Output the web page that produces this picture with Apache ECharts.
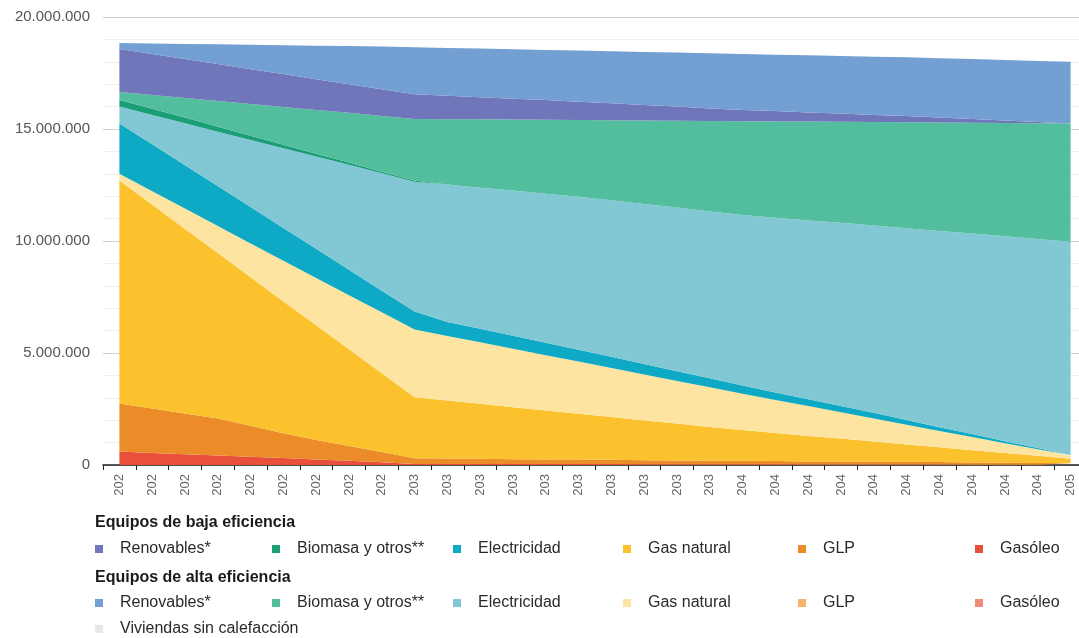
<!DOCTYPE html>
<html>
<head>
<meta charset="utf-8">
<title>Equipos de calefacción</title>
<script src="https://cdn.jsdelivr.net/npm/echarts@6/dist/echarts.min.js"></script>
<style>
  html, body { margin: 0; padding: 0; background: #fff; overflow: hidden; }
  /* el original está recortado por la derecha: el lienzo es algo más ancho que la ventana */
  #grafico { width: 1087px; height: 638px; }
</style>
</head>
<body>
<div id="grafico"></div>
<script>
// años (eje x)
var anios = ['2021','2022','2023','2024','2025','2026','2027','2028','2029','2030',
             '2031','2032','2033','2034','2035','2036','2037','2038','2039','2040',
             '2041','2042','2043','2044','2045','2046','2047','2048','2049','2050'];

// valores en millones de viviendas
var gasoleoBaja = [0.60,0.54,0.48,0.42,0.37,0.31,0.25,0.19,0.12,0.05,
                   0.05,0.05,0.04,0.04,0.04,0.04,0.03,0.03,0.03,0.03,
                   0.03,0.02,0.02,0.02,0.02,0.02,0.01,0.01,0.01,0.01];
var gasoleoAlta = [0,0,0,0,0,0,0,0,0,0, 0,0,0,0,0,0,0,0,0,0, 0,0,0,0,0,0,0,0,0,0];
var glpBaja = [2.15,1.98,1.82,1.66,1.38,1.11,0.87,0.66,0.46,0.25,
               0.24,0.23,0.22,0.21,0.20,0.19,0.18,0.17,0.16,0.16,
               0.15,0.14,0.14,0.13,0.12,0.11,0.10,0.09,0.08,0.07];
var glpAlta = [0,0,0,0,0,0,0,0,0,0, 0,0,0,0,0,0,0,0,0,0, 0,0,0,0,0,0,0,0,0,0];
var gasBaja = [9.95,9.10,8.24,7.38,6.63,5.88,5.12,4.32,3.52,2.73,
               2.59,2.45,2.32,2.18,2.05,1.91,1.78,1.65,1.51,1.37,
               1.25,1.14,1.02,0.90,0.78,0.66,0.55,0.44,0.32,0.20];
var gasAlta = [0.30,0.60,0.91,1.21,1.51,1.82,2.11,2.41,2.72,3.02,
               2.88,2.75,2.61,2.47,2.33,2.19,2.05,1.90,1.77,1.62,
               1.47,1.33,1.17,1.03,0.88,0.73,0.59,0.43,0.29,0.14];
var elecBaja = [2.25,2.10,1.93,1.78,1.63,1.46,1.30,1.14,0.96,0.80,
                0.62,0.60,0.58,0.56,0.53,0.50,0.47,0.44,0.40,0.37,
                0.34,0.31,0.28,0.25,0.21,0.17,0.13,0.09,0.06,0.03];
var elecAlta = [0.75,1.31,1.88,2.43,2.99,3.56,4.12,4.68,5.24,5.80,
                6.14,6.30,6.48,6.65,6.83,6.99,7.14,7.30,7.45,7.61,
                7.80,7.98,8.18,8.36,8.56,8.76,8.95,9.15,9.33,9.52];
var bioBaja = [0.30,0.27,0.25,0.22,0.19,0.16,0.13,0.10,0.07,0.05,
               0,0,0,0,0,0,0,0,0,0, 0,0,0,0,0,0,0,0,0,0];
var bioAlta = [0.35,0.62,0.87,1.15,1.42,1.68,1.95,2.22,2.49,2.75,
               2.92,3.05,3.17,3.30,3.42,3.57,3.73,3.88,4.04,4.19,
               4.30,4.41,4.51,4.62,4.73,4.84,4.95,5.06,5.17,5.28];
var renBaja = [1.92,1.83,1.74,1.65,1.55,1.47,1.37,1.28,1.20,1.10,
               1.04,0.99,0.93,0.88,0.82,0.76,0.69,0.63,0.56,0.50,
               0.46,0.41,0.37,0.32,0.28,0.22,0.17,0.11,0.05,0.00];
var renAlta = [0.27,0.47,0.68,0.88,1.09,1.29,1.50,1.70,1.90,2.10,
               2.14,2.17,2.21,2.24,2.28,2.32,2.37,2.41,2.46,2.50,
               2.52,2.55,2.57,2.60,2.62,2.65,2.67,2.70,2.73,2.75];
var sinCalefaccion = [0,0,0,0,0,0,0,0,0,0, 0,0,0,0,0,0,0,0,0,0, 0,0,0,0,0,0,0,0,0,0];

// etiquetas de la leyenda
var nombres = ['Renovables*', 'Biomasa y otros**', 'Electricidad', 'Gas natural', 'GLP', 'Gasóleo'];

var fuente = '"Liberation Sans", Arial, sans-serif';

// orden de apilado: de abajo arriba
var capas = [
    { nombre: 'Gasóleo|baja', datos: gasoleoBaja, color: '#e8503c' },
    { nombre: 'Gasóleo|alta', datos: gasoleoAlta, color: '#ee8c7d' },
    { nombre: 'GLP|baja', datos: glpBaja, color: '#eb8c28' },
    { nombre: 'GLP|alta', datos: glpAlta, color: '#f7b464' },
    { nombre: 'Gas natural|baja', datos: gasBaja, color: '#fcc22d' },
    { nombre: 'Gas natural|alta', datos: gasAlta, color: '#fde4a0' },
    { nombre: 'Electricidad|baja', datos: elecBaja, color: '#0ea9c4' },
    { nombre: 'Electricidad|alta', datos: elecAlta, color: '#82c8d4' },
    { nombre: 'Biomasa y otros**|baja', datos: bioBaja, color: '#1a9e76' },
    { nombre: 'Biomasa y otros**|alta', datos: bioAlta, color: '#52be9e' },
    { nombre: 'Renovables*|baja', datos: renBaja, color: '#7076ba' },
    { nombre: 'Renovables*|alta', datos: renAlta, color: '#739fd3' },
    { nombre: 'Viviendas sin calefacción', datos: sinCalefaccion, color: '#e8e8e8' }
];

var series = capas.map(function (c) {
    return {
        name: c.nombre,
        type: 'line',
        stack: 'total',
        data: c.datos,
        color: c.color,
        symbol: 'none',
        lineStyle: { width: 0 },
        areaStyle: { opacity: 1, color: c.color },
        emphasis: { disabled: true }
    };
});

// una leyenda por elemento para colocarlos en columnas
var columnas = [95, 272, 453, 623, 798, 975];
var leyendas = [];
nombres.forEach(function (n, i) {
    leyendas.push(itemLeyenda(n + '|baja', columnas[i], 541));
    leyendas.push(itemLeyenda(n + '|alta', columnas[i], 595));
});
leyendas.push(itemLeyenda('Viviendas sin calefacción', 95, 621));

function itemLeyenda(nombre, x, y) {
    return {
        data: [nombre],
        left: x,
        top: y,
        padding: 0,
        icon: 'rect',
        itemWidth: 8,
        itemHeight: 8,
        selectedMode: false,
        formatter: function (name) { return name.split('|')[0]; },
        textStyle: { fontFamily: fuente, fontSize: 16, color: '#2a2a2a', padding: [0, 0, 0, 12] }
    };
}

function miles(v) {
    return String(Math.round(v * 1000000)).replace(/\B(?=(\d{3})+(?!\d))/g, '.');
}

var myChart = echarts.init(document.getElementById('grafico'));

var option = {
    animation: false,
    tooltip: { trigger: 'axis' },
    grid: { left: 103, right: 0, top: 17, bottom: 173 },
    legend: leyendas,
    graphic: [
        { type: 'text', left: 95, top: 515,
          style: { text: 'Equipos de baja eficiencia', font: 'bold 16px ' + fuente, fill: '#1a1a1a' } },
        { type: 'text', left: 95, top: 570,
          style: { text: 'Equipos de alta eficiencia', font: 'bold 16px ' + fuente, fill: '#1a1a1a' } }
    ],
    xAxis: {
        type: 'category',
        data: anios,
        boundaryGap: true,
        axisLine: { lineStyle: { color: '#222', width: 1.5 } },
        axisTick: { show: true, length: 5, lineStyle: { color: '#222' } },
        axisLabel: {
            interval: 0,
            rotate: 90,
            margin: 9,
            fontFamily: fuente,
            fontSize: 13,
            color: '#666',
            formatter: function (v) { return v.slice(0, 3); }
        }
    },
    yAxis: {
        type: 'value',
        min: 0,
        max: 20,
        interval: 5,
        axisLine: { show: false },
        axisTick: { show: false },
        axisLabel: {
            margin: 13,
            fontFamily: fuente,
            fontSize: 15,
            color: '#555',
            formatter: miles
        },
        splitLine: { lineStyle: { color: '#cfcfcf' } },
        minorTick: { show: false, splitNumber: 5 },
        minorSplitLine: { show: true, lineStyle: { color: '#eeeeee' } }
    },
    series: series
};

myChart.setOption(option);
</script>
</body>
</html>
